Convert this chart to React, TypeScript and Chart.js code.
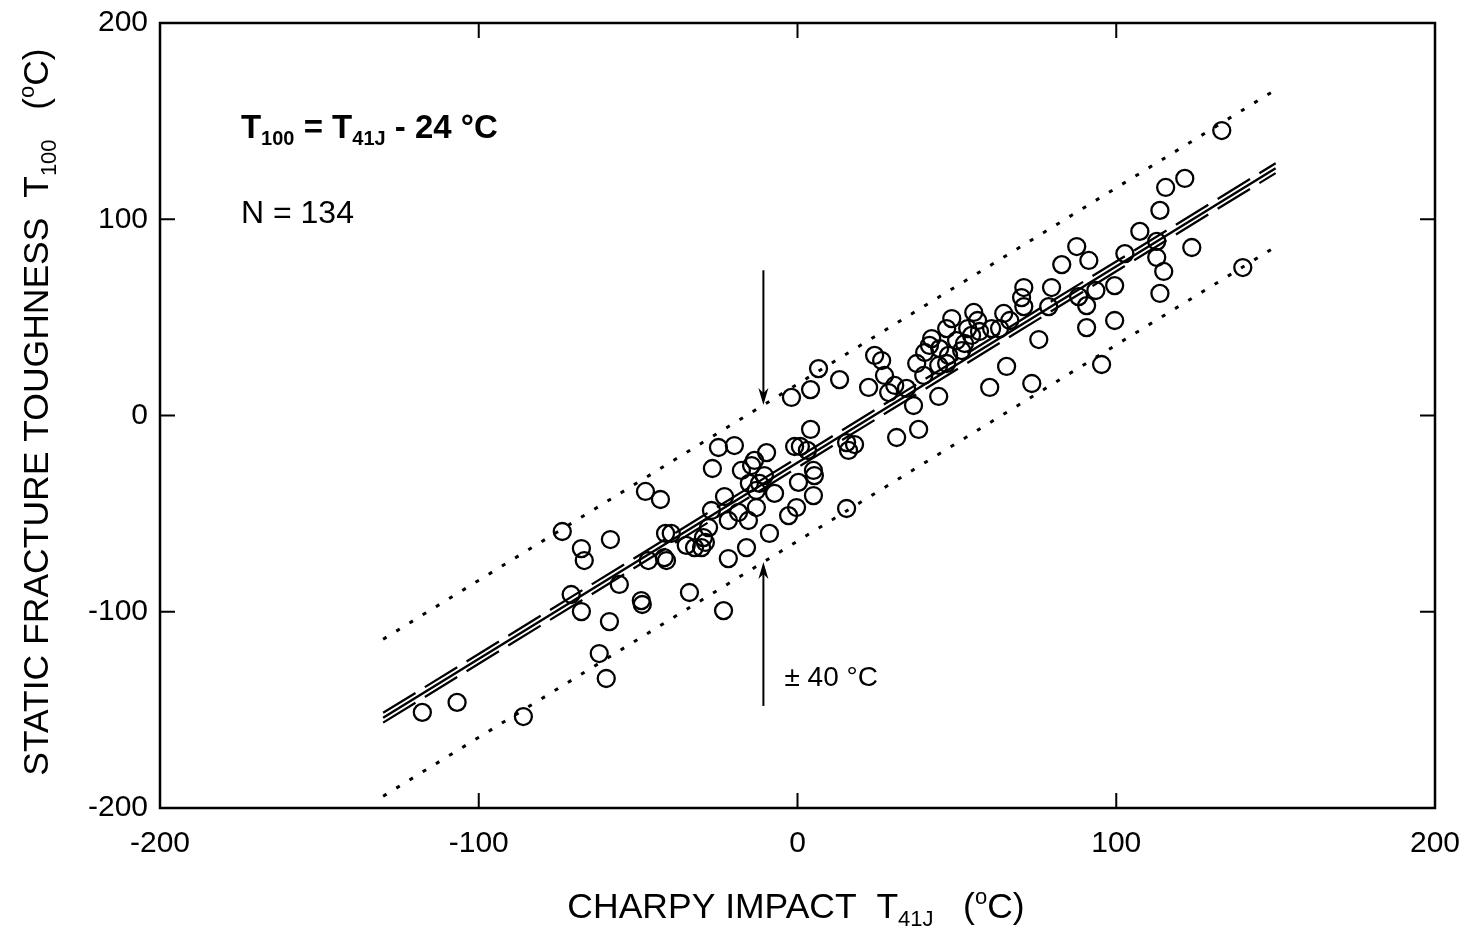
import React, { useEffect, useRef } from "react";
import { Chart, registerables } from "chart.js";

Chart.register(...registerables);

const FONT = "'Liberation Sans', Arial, Helvetica, sans-serif";

// Charpy impact transition temperature T41J (°C)
const charpyT41J: number[] = [
  -117.7, -106.8, -86.0, -73.8, -71.0, -67.8, -66.9, -67.8, -62.2, -60.0,
  -58.7, -59.0, -55.9, -49.0, -48.7, -47.7, -43.0, -46.8, -41.8, -41.4,
  -39.6, -34.9, -33.9, -32.3, -30.1, -29.5, -27.9, -27.0, -26.7, -24.8,
  -19.8, -22.9, -23.2, -21.7, -21.7, -18.5, -16.0, -15.4, -15.1, -14.4,
  -13.5, -12.9, -11.9, -10.4, -9.7, -8.8, -7.2, -2.8, -1.9, -0.9,
  -0.3, 0.3, 0.9, 4.1, 4.1, 5.0, 5.3, 6.6, 13.2, 15.4,
  15.4, 16.0, 17.9, 22.3, 24.2, 27.3, 28.6, 30.5, 31.1, 34.2,
  36.4, 37.4, 38.0, 39.6, 39.9, 44.3, 44.3, 44.6, 46.8, 47.4,
  51.5, 52.4, 42.1, 46.8, 48.4, 53.4, 55.3, 56.5, 57.1, 60.9,
  63.4, 64.7, 60.3, 65.6, 73.5, 75.7, 70.3, 71.0, 71.0, 78.8,
  79.7, 82.9, 87.6, 91.4, 88.2, 90.7, 93.6, 90.7, 95.4, 99.5,
  99.5, 102.7, 107.4, 112.7, 112.7, 114.9, 113.7, 113.7, 115.5, 121.5,
  123.7, 133.1, 139.7, 41.4, 49.9, 54.6, -17.6, -12.9, -28.9, -41.1,
  3.1, 26.4, 66.6, 5.0,
];

// Static fracture toughness transition temperature T100 (°C)
const toughnessT100: number[] = [
  -151.3, -146.2, -153.4, -59.1, -91.2, -67.8, -73.9, -99.9, -121.3, -134.0,
  -63.2, -105.0, -86.1, -94.3, -96.3, -38.7, -42.8, -73.9, -72.4, -60.1,
  -60.1, -66.2, -90.2, -67.3, -67.3, -62.2, -57.1, -48.4, -27.0, -16.3,
  -15.3, -41.3, -99.4, -53.5, -72.9, -49.4, -67.3, -53.5, -34.6, -25.5,
  -22.9, -46.9, -34.6, -30.6, -18.9, -60.1, -39.7, -51.0, 9.2, -15.8,
  -46.9, -34.1, -15.8, 13.2, -7.1, -40.8, -30.6, 23.9, 18.3, -13.8,
  -47.4, -17.8, -14.8, 14.3, 30.6, 20.4, 11.7, 15.3, -11.2, 13.8,
  5.1, 26.5, -7.1, 20.4, 32.1, 25.5, 9.7, 34.1, 26.5, 30.6,
  33.1, 36.7, 39.2, 44.3, 49.4, 44.3, 52.5, 48.4, 42.8, 44.3,
  44.3, 52.0, 14.3, 25.0, 16.3, 38.7, 60.1, 65.2, 55.5, 55.5,
  65.2, 76.9, 86.1, 79.0, 60.6, 56.0, 63.7, 44.8, 26.0, 66.2,
  48.4, 82.5, 93.8, 88.7, 80.5, 73.4, 62.2, 104.5, 116.2, 120.8,
  85.6, 145.2, 75.4, 35.7, 38.2, 40.8, -28.0, -38.2, -64.7, -73.9,
  -17.8, 28.0, 48.4, -28.0,
];

// Fit line T100 = T41J - 24 °C, its confidence band and the ±40 °C scatter band
const lineX: number[] = [-130, 150];
const fitY: number[] = [-154, 126];
const bandUpperY: number[] = [-151.5, 128.5];
const bandLowerY: number[] = [-156.5, 123.5];
const scatterUpperY: number[] = [-114, 166];
const scatterLowerY: number[] = [-194, 86];

const tickValues: number[] = [-200, -100, 0, 100, 200];
const innerTickValues: number[] = [-100, 0, 100];

// Arrows marking the ±40 °C band
const arrowX = -10.7;
const arrowDownFromTo: number[] = [74, 5.3];
const arrowUpFromTo: number[] = [-148, -74.7];

type Seg = { t: string; size: number; bold?: boolean; dy?: number };

function setFont(ctx: CanvasRenderingContext2D, s: Seg) {
  ctx.font = `${s.bold ? "bold " : ""}${s.size}px ${FONT}`;
}
function segsWidth(ctx: CanvasRenderingContext2D, segs: Seg[]) {
  let w = 0;
  for (const s of segs) {
    setFont(ctx, s);
    w += ctx.measureText(s.t).width;
  }
  return w;
}
function drawSegs(ctx: CanvasRenderingContext2D, segs: Seg[], x: number, y: number) {
  let cx = x;
  ctx.textAlign = "left";
  ctx.textBaseline = "alphabetic";
  for (const s of segs) {
    setFont(ctx, s);
    ctx.fillText(s.t, cx, y + (s.dy || 0));
    cx += ctx.measureText(s.t).width;
  }
}

function drawArrow(ctx: CanvasRenderingContext2D, x: number, y0: number, y1: number) {
  const dir = y1 > y0 ? 1 : -1;
  ctx.beginPath();
  ctx.moveTo(x, y0);
  ctx.lineTo(x, y1 - dir * 6);
  ctx.stroke();
  const len = 17;
  const hw = 5;
  ctx.beginPath();
  ctx.moveTo(x, y1);
  ctx.lineTo(x - hw, y1 - dir * len);
  ctx.lineTo(x, y1 - dir * (len - 5));
  ctx.lineTo(x + hw, y1 - dir * len);
  ctx.closePath();
  ctx.fill();
}

const decorPlugin = {
  id: "decor",
  afterDatasetsDraw(chart: any) {
    const ctx: CanvasRenderingContext2D = chart.ctx;
    const a = chart.chartArea;
    const xs = chart.scales.x;
    const ys = chart.scales.y;
    ctx.save();
    ctx.strokeStyle = "#000";
    ctx.fillStyle = "#000";
    ctx.setLineDash([]);
    // frame
    ctx.lineWidth = 2.5;
    ctx.strokeRect(a.left, a.top, a.right - a.left, a.bottom - a.top);
    // inward ticks on all four sides
    const L = 15;
    ctx.lineWidth = 2;
    ctx.beginPath();
    for (const v of innerTickValues) {
      const px = xs.getPixelForValue(v);
      const py = ys.getPixelForValue(v);
      ctx.moveTo(px, a.bottom);
      ctx.lineTo(px, a.bottom - L);
      ctx.moveTo(px, a.top);
      ctx.lineTo(px, a.top + L);
      ctx.moveTo(a.left, py);
      ctx.lineTo(a.left + L, py);
      ctx.moveTo(a.right, py);
      ctx.lineTo(a.right - L, py);
    }
    ctx.stroke();

    // arrows
    ctx.lineWidth = 2;
    const ax = xs.getPixelForValue(arrowX);
    drawArrow(ctx, ax, ys.getPixelForValue(arrowDownFromTo[0]), ys.getPixelForValue(arrowDownFromTo[1]));
    drawArrow(ctx, ax, ys.getPixelForValue(arrowUpFromTo[0]), ys.getPixelForValue(arrowUpFromTo[1]));

    // equation annotation
    drawSegs(
      ctx,
      [
        { t: "T", size: 33, bold: true },
        { t: "100", size: 20, bold: true, dy: 7 },
        { t: " = T", size: 33, bold: true },
        { t: "41J", size: 20, bold: true, dy: 7 },
        { t: " - 24 °C", size: 33, bold: true },
      ],
      xs.getPixelForValue(-174.6),
      ys.getPixelForValue(141.5)
    );
    drawSegs(ctx, [{ t: "N = 134", size: 32 }], xs.getPixelForValue(-174.6), ys.getPixelForValue(98.3));
    drawSegs(ctx, [{ t: "± 40 °C", size: 28 }], xs.getPixelForValue(-4.1), ys.getPixelForValue(-138));

    // x-axis title
    const xTitle: Seg[] = [
      { t: "CHARPY IMPACT  T", size: 35.5 },
      { t: "41J", size: 22, dy: 8 },
      { t: "   (", size: 35.5 },
      { t: "o", size: 22, dy: -14 },
      { t: "C)", size: 35.5 },
    ];
    const xw = segsWidth(ctx, xTitle);
    drawSegs(ctx, xTitle, 796 - xw / 2, 918);

    // y-axis title
    const yTitle: Seg[] = [
      { t: "STATIC FRACTURE TOUGHNESS  T", size: 35.5 },
      { t: "100", size: 22, dy: 8 },
      { t: "   (", size: 35.5 },
      { t: "o", size: 22, dy: -14 },
      { t: "C)", size: 35.5 },
    ];
    const yw = segsWidth(ctx, yTitle);
    ctx.translate(48, 412);
    ctx.rotate(-Math.PI / 2);
    drawSegs(ctx, yTitle, -yw / 2, 0);
    ctx.restore();
  },
};

export default function App() {
  const ref = useRef<HTMLCanvasElement | null>(null);
  useEffect(() => {
    if (!ref.current) return;
    const mk = (ys: number[]) => lineX.map((v, i) => ({ x: v, y: ys[i] }));
    const points = charpyT41J.map((v, i) => ({ x: v, y: toughnessT100[i] }));
    const tickFont = { size: 30, family: FONT };
    const chart = new Chart(ref.current, {
      type: "scatter",
      data: {
        datasets: [
          {
            type: "line",
            data: mk(scatterUpperY),
            borderColor: "#000",
            borderWidth: 3,
            borderDash: [4, 11.5],
            pointRadius: 0,
            fill: false,
          } as any,
          {
            type: "line",
            data: mk(scatterLowerY),
            borderColor: "#000",
            borderWidth: 3,
            borderDash: [4, 11.5],
            pointRadius: 0,
            fill: false,
          } as any,
          {
            type: "line",
            data: mk(bandUpperY),
            borderColor: "#000",
            borderWidth: 2.3,
            borderDash: [38, 11],
            pointRadius: 0,
            fill: false,
          } as any,
          {
            type: "line",
            data: mk(bandLowerY),
            borderColor: "#000",
            borderWidth: 2.3,
            borderDash: [38, 11],
            pointRadius: 0,
            fill: false,
          } as any,
          {
            type: "line",
            data: mk(fitY),
            borderColor: "#000",
            borderWidth: 2.5,
            pointRadius: 0,
            fill: false,
          } as any,
          {
            type: "scatter",
            data: points,
            pointRadius: 8.5,
            pointBorderWidth: 2.3,
            borderColor: "#000",
            pointBorderColor: "#000",
            backgroundColor: "rgba(0,0,0,0)",
            pointBackgroundColor: "rgba(0,0,0,0)",
          } as any,
        ],
      },
      options: {
        responsive: false,
        animation: false,
        devicePixelRatio: 1,
        layout: { padding: { top: 23, right: 30, left: 0, bottom: 0 } },
        plugins: { legend: { display: false }, tooltip: { enabled: false } },
        scales: {
          x: {
            type: "linear",
            min: -200,
            max: 200,
            afterBuildTicks: (s: any) => {
              s.ticks = tickValues.map((v) => ({ value: v }));
            },
            afterFit: (s: any) => {
              s.height = 126;
              s.paddingLeft = 0;
              s.paddingRight = 0;
              s.paddingTop = 0;
              s.paddingBottom = 0;
            },
            ticks: { font: tickFont, color: "#000", padding: 18, maxRotation: 0, autoSkip: false },
            grid: { display: false, drawTicks: false },
            border: { display: false },
          },
          y: {
            type: "linear",
            min: -200,
            max: 200,
            afterBuildTicks: (s: any) => {
              s.ticks = tickValues.map((v) => ({ value: v }));
            },
            afterFit: (s: any) => {
              s.width = 160;
              s.paddingLeft = 0;
              s.paddingRight = 0;
              s.paddingTop = 0;
              s.paddingBottom = 0;
            },
            ticks: { font: tickFont, color: "#000", padding: 12, autoSkip: false },
            grid: { display: false, drawTicks: false },
            border: { display: false },
          },
        },
      } as any,
      plugins: [decorPlugin as any],
    });
    return () => chart.destroy();
  }, []);
  return (
    <div style={{ position: "fixed", left: 0, top: 0, width: 1465, height: 934, background: "#fff" }}>
      <canvas ref={ref} width={1465} height={934} style={{ display: "block", width: 1465, height: 934 }} />
    </div>
  );
}
